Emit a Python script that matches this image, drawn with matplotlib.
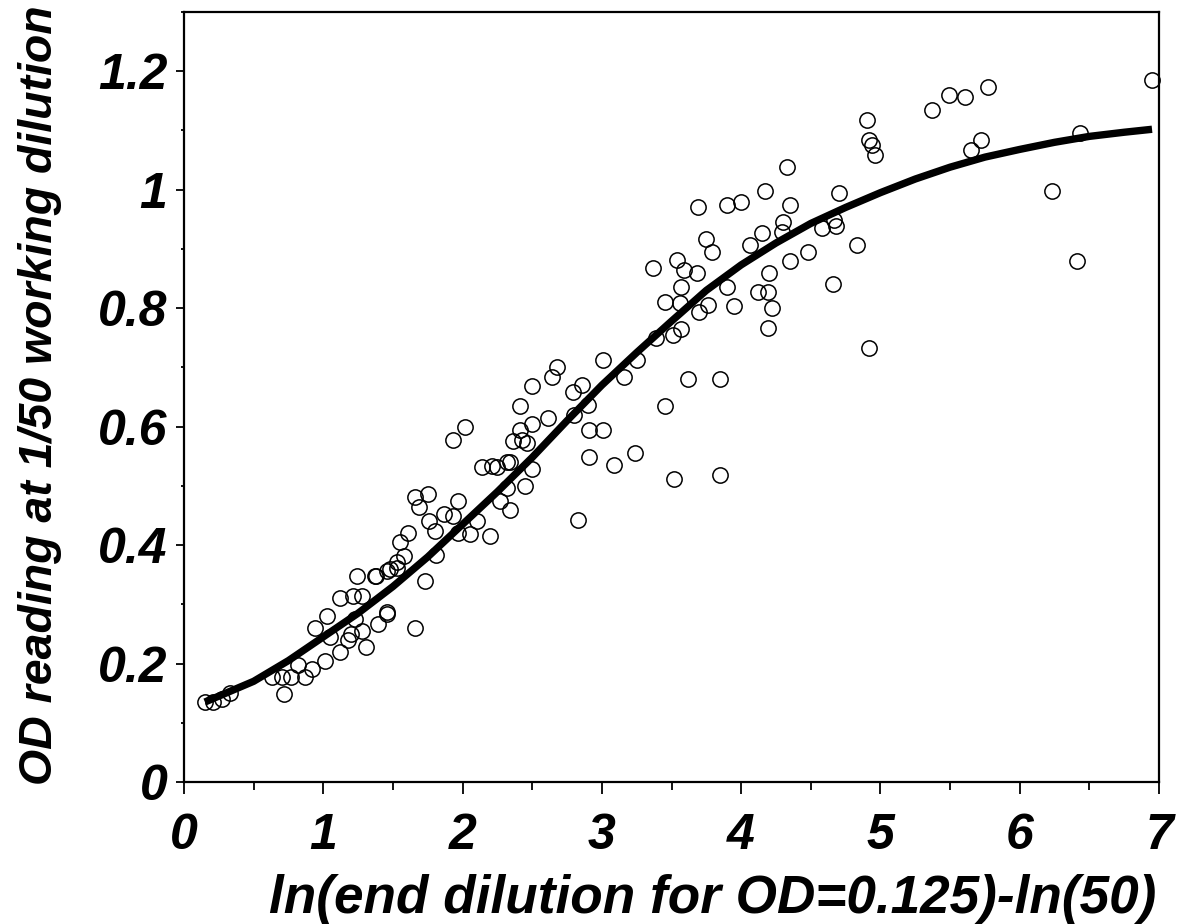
import matplotlib
matplotlib.use("Agg")
import matplotlib.pyplot as plt
from matplotlib.ticker import MultipleLocator

# Scatter data
x_obs = [0.15, 0.21, 0.27, 0.33, 0.72, 0.63, 0.70, 0.77, 0.87, 0.82, 0.92, 1.01, 0.94, 1.03,
         1.05, 1.12, 1.18, 1.20, 1.28, 1.31, 1.23, 1.39, 1.46, 1.12, 1.21, 1.28, 1.24, 1.37,
         1.46, 1.53, 1.66,
         2.41, 2.02, 1.93, 2.14, 2.25, 2.34, 2.36, 2.43, 2.45, 2.34, 2.27, 2.32, 1.66, 1.75,
         1.69, 1.97, 1.87, 1.93, 1.76, 1.80, 2.10, 2.05, 1.97, 2.20, 1.81, 1.61, 1.55, 1.58,
         1.53, 1.48, 1.38, 1.73, 1.46,
         3.01, 3.25, 3.16, 2.68, 2.64, 2.50, 2.86, 2.79, 2.90, 2.80, 2.61, 2.50, 2.41,
         2.46, 2.91, 3.01, 2.91, 3.09, 3.24, 2.50, 2.32, 2.21, 2.83,
         3.69, 3.90, 4.00, 4.35, 4.30, 4.29, 4.15, 4.06, 3.75, 3.79, 3.54, 3.37, 3.59, 3.68,
         3.57, 3.45, 3.56, 3.76, 3.70, 3.90, 3.95, 4.20, 4.12, 4.19, 4.22, 4.19, 4.35, 3.57,
         3.51, 3.39, 3.62, 3.85, 3.45, 3.52, 3.85,
         5.37, 4.90, 4.92, 4.94, 4.96, 4.33, 4.17, 4.70, 4.58, 4.67, 4.68, 4.83, 4.48, 4.66,
         4.92,
         5.49, 5.61, 5.77, 6.95, 5.72, 5.65, 6.43, 6.23, 6.41]
y_obs = [0.135, 0.135, 0.14, 0.15, 0.148, 0.177, 0.177, 0.177, 0.177, 0.197, 0.19, 0.204, 0.26,
         0.28, 0.245, 0.22, 0.24, 0.25, 0.255, 0.228, 0.275, 0.266, 0.283, 0.31, 0.314, 0.314,
         0.347, 0.347, 0.356, 0.362, 0.26,
         0.634, 0.60, 0.578, 0.531, 0.531, 0.54, 0.575, 0.578, 0.50, 0.46, 0.474, 0.497, 0.482,
         0.486, 0.465, 0.474, 0.452, 0.449, 0.44, 0.423, 0.44, 0.418, 0.42, 0.415, 0.384,
         0.42, 0.405, 0.381, 0.371, 0.359, 0.347, 0.339, 0.287,
         0.713, 0.713, 0.683, 0.70, 0.683, 0.668, 0.671, 0.658, 0.637, 0.62, 0.615,
         0.604, 0.595, 0.573, 0.595, 0.595, 0.548, 0.536, 0.556, 0.528, 0.54, 0.533,
         0.443,
         0.97, 0.975, 0.98, 0.975, 0.946, 0.929, 0.927, 0.907, 0.916, 0.894, 0.882, 0.868,
         0.865, 0.86, 0.836, 0.811, 0.809, 0.806, 0.794, 0.836, 0.803, 0.86, 0.828, 0.828,
         0.80, 0.767, 0.879, 0.764, 0.755, 0.75, 0.68, 0.68, 0.634, 0.511, 0.519,
         1.135, 1.118, 1.084, 1.076, 1.059, 1.039, 0.997, 0.995, 0.936, 0.949, 0.938, 0.907,
         0.894, 0.84, 0.733,
         1.16, 1.157, 1.174, 1.186, 1.084, 1.067, 1.096, 0.997, 0.879]

# Fitted curve
x_fit = [0.15, 0.25, 0.5, 0.75, 1.0, 1.25, 1.5, 1.75, 2.0, 2.25, 2.5, 2.75, 3.0, 3.25, 3.5,
         3.75, 4.0, 4.25, 4.5, 4.75, 5.0, 5.25, 5.5, 5.75, 6.0, 6.25, 6.5, 6.75, 6.95]
y_fit = [0.135, 0.145, 0.17, 0.205, 0.245, 0.285, 0.33, 0.38, 0.435, 0.49, 0.548, 0.61, 0.67,
         0.725, 0.778, 0.83, 0.873, 0.91, 0.943, 0.97, 0.995, 1.018, 1.038, 1.055, 1.068,
         1.08, 1.09, 1.097, 1.102]

x_ticks = [0, 1, 2, 3, 4, 5, 6, 7]
y_ticks = [0, 0.2, 0.4, 0.6, 0.8, 1.0, 1.2]
y_tick_labels = ["0", "0.2", "0.4", "0.6", "0.8", "1", "1.2"]
x_label = "ln(end dilution for OD=0.125)-ln(50)"
y_label = "OD reading at 1/50 working dilution"

plt.rcParams['font.family'] = ['Liberation Sans', 'DejaVu Sans']

W, H = 1181, 924
fig = plt.figure(figsize=(W / 100, H / 100), dpi=100)
ax = fig.add_axes([184 / W, 1 - 782 / H, (1159 - 184) / W, (782 - 12) / H])

ax.plot(x_obs, y_obs, linestyle='none', marker='o', markersize=11, markerfacecolor='none',
        markeredgecolor='black', markeredgewidth=1.1, clip_on=False, zorder=3)
ax.plot(x_fit, y_fit, color='black', linewidth=5.3, solid_capstyle='butt', zorder=4)

ax.set_xlim(0, 7)
ax.set_ylim(0, 1.3)
ax.set_xticks(x_ticks)
ax.set_xticklabels([str(v) for v in x_ticks])
ax.set_yticks(y_ticks)
ax.set_yticklabels(y_tick_labels)
ax.xaxis.set_minor_locator(MultipleLocator(0.5))
ax.yaxis.set_minor_locator(MultipleLocator(0.1))

for s in ax.spines.values():
    s.set_linewidth(1.6)

ax.tick_params(axis='x', which='major', direction='out', length=8.5, width=1.3, pad=14)
ax.tick_params(axis='x', which='minor', direction='out', length=5.5, width=1.3)
ax.tick_params(axis='y', which='major', direction='out', length=6, width=1.3, pad=6)
ax.tick_params(axis='y', which='minor', direction='out', length=2.5, width=1.3)

for lab in ax.get_xticklabels() + ax.get_yticklabels():
    lab.set_fontsize(36)
    lab.set_fontstyle('italic')
    lab.set_fontweight('bold')

xl = fig.text(713 / W, 1 - 913 / H, x_label, fontsize=35, fontstyle='italic',
              fontweight='bold', ha='center', va='baseline')
yl = fig.text(52 / W, 1 - 395 / H, y_label, fontsize=35, fontstyle='italic',
              fontweight='bold', ha='center', va='baseline', rotation=90,
              rotation_mode='anchor')

# fit label sizes to the spans seen in the reference
fig.canvas.draw()
r = fig.canvas.get_renderer()
wx = xl.get_window_extent(r).width
xl.set_fontsize(35 * 887 / wx)
hy = yl.get_window_extent(r).height
yl.set_fontsize(35 * 780 / hy)

fig.savefig("out.png", dpi=100)
